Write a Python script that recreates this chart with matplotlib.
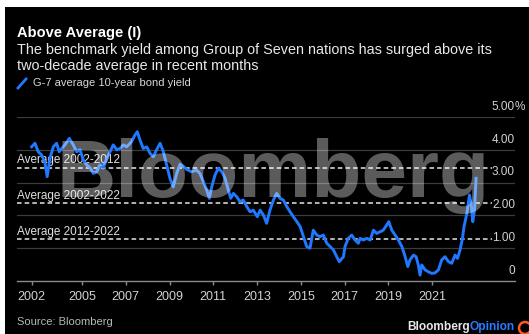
import matplotlib
matplotlib.use("Agg")
import matplotlib.pyplot as plt
from matplotlib.patches import Rectangle, Ellipse
from matplotlib.transforms import blended_transform_factory, offset_copy

# G-7 average 10-year bond yield (decimal years on the chart's time axis)
years = [2002.70, 2002.85, 2003.00, 2003.16, 2003.31, 2003.41, 2003.54, 2003.69, 2003.84, 2003.96,
         2004.07, 2004.22, 2004.42, 2004.60, 2004.76, 2004.91, 2005.06, 2005.21, 2005.37, 2005.52,
         2005.67, 2005.82, 2005.97, 2006.13, 2006.28, 2006.43, 2006.59, 2006.74, 2006.89, 2007.04,
         2007.27, 2007.42, 2007.53, 2007.65, 2007.80, 2007.96, 2008.11, 2008.26, 2008.41, 2008.57,
         2008.72, 2008.87, 2009.02, 2009.17, 2009.33, 2009.48, 2009.63, 2009.79,
         2010.01, 2010.24, 2010.39, 2010.55, 2010.70, 2010.82, 2010.93, 2011.08, 2011.23, 2011.39,
         2011.54, 2011.69, 2011.80, 2011.92, 2012.07, 2012.22, 2012.37, 2012.53, 2012.68, 2012.83,
         2013.01, 2013.14, 2013.29, 2013.44, 2013.59, 2013.75, 2013.90, 2014.05, 2014.20, 2014.36,
         2014.51, 2014.66, 2014.82, 2014.97, 2015.12, 2015.27, 2015.42, 2015.57, 2015.73, 2015.88,
         2016.03, 2016.19, 2016.34, 2016.49, 2016.64, 2016.76,
         2016.95, 2017.02, 2017.17, 2017.33, 2017.48, 2017.63, 2017.71, 2017.86, 2018.01, 2018.17,
         2018.32, 2018.47, 2018.62, 2018.77, 2018.93, 2019.02, 2019.16, 2019.31, 2019.46, 2019.62,
         2019.77, 2019.89, 2019.99, 2020.15, 2020.27, 2020.37, 2020.45, 2020.53, 2020.68, 2020.83,
         2020.99, 2021.14, 2021.29, 2021.44, 2021.59, 2021.75, 2021.90, 2022.05, 2022.16, 2022.28,
         2022.39, 2022.46, 2022.59, 2022.71, 2022.80, 2022.86, 2022.94, 2023.01]
yields = [4.09, 4.20, 3.94, 3.84, 3.60, 3.18, 3.75, 4.09, 4.20, 3.94,
          4.04, 4.15, 4.35, 4.15, 3.94, 4.00, 3.69, 3.54, 3.45, 3.28,
          3.33, 3.54, 3.44, 3.74, 3.94, 4.15, 4.00, 4.04, 4.15, 4.09,
          4.25, 4.45, 4.55, 4.30, 4.04, 4.09, 3.89, 3.79, 4.00, 4.20,
          3.94, 3.54, 3.13, 2.87, 3.28, 3.56, 3.50, 3.40,
          3.33, 3.38, 3.28, 3.03, 2.77, 2.52, 2.87, 3.23, 3.44, 3.33,
          3.13, 2.77, 2.52, 2.67, 2.57, 2.42, 2.47, 2.27, 2.11, 2.16,
          1.96, 2.16, 2.01, 1.76, 2.16, 2.47, 2.67, 2.52, 2.47, 2.27,
          2.11, 1.96, 1.81, 1.66, 1.35, 1.05, 1.00, 1.55, 1.40, 1.35,
          1.40, 1.15, 1.05, 0.95, 0.74, 0.59,
          0.74, 1.05, 1.30, 1.40, 1.25, 1.15, 1.30, 1.25, 1.30, 1.25,
          1.55, 1.45, 1.50, 1.55, 1.71, 1.81, 1.55, 1.40, 1.25, 1.05,
          0.74, 0.44, 0.64, 0.79, 0.74, 0.49, 0.18, 0.49, 0.34, 0.28,
          0.23, 0.25, 0.34, 0.64, 0.74, 0.59, 0.54, 0.79, 0.69, 0.95,
          1.30, 1.66, 2.06, 2.62, 2.27, 1.81, 2.16, 3.13]

avg_values = [3.45, 2.38, 1.28]
avg_labels = ["Average 2002-2012", "Average 2002-2022", "Average 2012-2022"]

xtick_pos = [2002.7, 2005, 2007, 2009, 2011, 2013, 2015, 2017, 2019, 2021]
xtick_labels = ["2002", "2005", "2007", "2009", "2011", "2013", "2015", "2017", "2019", "2021"]
ytick_pos = [0, 1, 2, 3, 4, 5]
ytick_labels = ["0", "1.00", "2.00", "3.00", "4.00", "5.00"]

plt.rcParams['font.family'] = ['Liberation Sans', 'DejaVu Sans']

W, H = 529, 334
fig = plt.figure(figsize=(W / 100, H / 100), dpi=100, facecolor='white')
# black card with thin white margin at top/left
fig.patches.append(Rectangle((5 / W, 0), 1, (H - 7) / H, transform=fig.transFigure,
                             facecolor='black', edgecolor='none', zorder=-5))

ax = fig.add_axes([17 / W, (H - 281) / H, (515 - 17) / W, (281 - 117) / H])
ax.set_zorder(2)
ax.set_facecolor('black')
ax.set_xlim(2002.03, 2024.79)
ax.set_ylim(0, 5)
for s in ['top', 'right', 'left']:
    ax.spines[s].set_visible(False)
ax.spines['bottom'].set_color('#8a8a8a')
ax.spines['bottom'].set_linewidth(1.0)

for v in ytick_pos[1:]:
    ax.axhline(v, color='#3c3c3c', lw=0.9, zorder=1)

ax.set_yticks([])
ax.set_xticks(xtick_pos, xtick_labels)
ax.tick_params(axis='x', colors='#8a8a8a', labelcolor='#d2d2d2', length=3, width=1,
               labelsize=9, pad=4)

# right-hand value labels sitting above the gridlines
trans = offset_copy(blended_transform_factory(ax.transAxes, ax.transData), fig=fig, x=0, y=3, units='points')
for v, lab in zip(ytick_pos, ytick_labels):
    ax.text(1.0, v, lab, transform=trans, ha='right', va='bottom', color='#d2d2d2', fontsize=8.5)
ax.text(1.0, 5, "%", transform=trans, ha='left', va='bottom', color='#d2d2d2', fontsize=8.5)

# dashed averages
xend = 2023.74
trans_lab = offset_copy(ax.transData, fig=fig, x=0, y=1, units='points')
for v, lab in zip(avg_values, avg_labels):
    ax.plot([2002.03, xend], [v, v], color='#e6e6e6', lw=1.1, ls=(0, (3, 2)), zorder=3)
    ax.text(2002.03, v, lab, transform=trans_lab, ha='left', va='bottom',
            color='#e0e0e0', fontsize=8.5, zorder=4)

ax.plot(years, yields, color='#1f78ff', lw=2.1, solid_joinstyle='round', zorder=5)

# watermark on top, translucent
ax.text(0.515, 0.51, "Bloomberg", transform=ax.transAxes, ha='center', va='baseline',
        fontsize=59, fontweight='bold', color='white', alpha=0.36, zorder=6,
        family=['Liberation Sans Narrow', 'Liberation Sans'])

# header
fig.text(17 / W, 1 - 33 / H, "Above Average (I)", color='white', fontsize=10.5,
         fontweight='bold', va='center', ha='left')
fig.text(17 / W, 1 - 50 / H, "The benchmark yield among Group of Seven nations has surged above its",
         color='#e8e8e8', fontsize=10.4, va='center', ha='left')
fig.text(17 / W, 1 - 66 / H, "two-decade average in recent months",
         color='#e8e8e8', fontsize=10.4, va='center', ha='left')

# legend
fig.lines.append(plt.Line2D([18 / W, 26 / W], [1 - 88 / H, 1 - 79 / H], transform=fig.transFigure,
                            color='#1f78ff', lw=2))
fig.text(33 / W, 1 - 83 / H, "G-7 average 10-year bond yield", color='#d8d8d8', fontsize=8,
         va='center', ha='left')

# footer
fig.text(17 / W, 1 - 322 / H, "Source: Bloomberg", color='#b8b8b8', fontsize=8,
         va='center', ha='left')
fig.text(470 / W, 1 - 327 / H, "Bloomberg", color='#e8e8e8', fontsize=8.6, fontweight='bold',
         va='center', ha='right')
fig.text(470 / W, 1 - 327 / H, "Opinion", color='#2a7bff', fontsize=8.6, fontweight='bold',
         va='center', ha='left')
fig.patches.append(Ellipse((525 / W, 1 - 328 / H), 12 / W, 12 / H, transform=fig.transFigure,
                           facecolor='none', edgecolor='#ff5a1f', lw=1.8))

fig.savefig("out.png", dpi=100, facecolor='white')
